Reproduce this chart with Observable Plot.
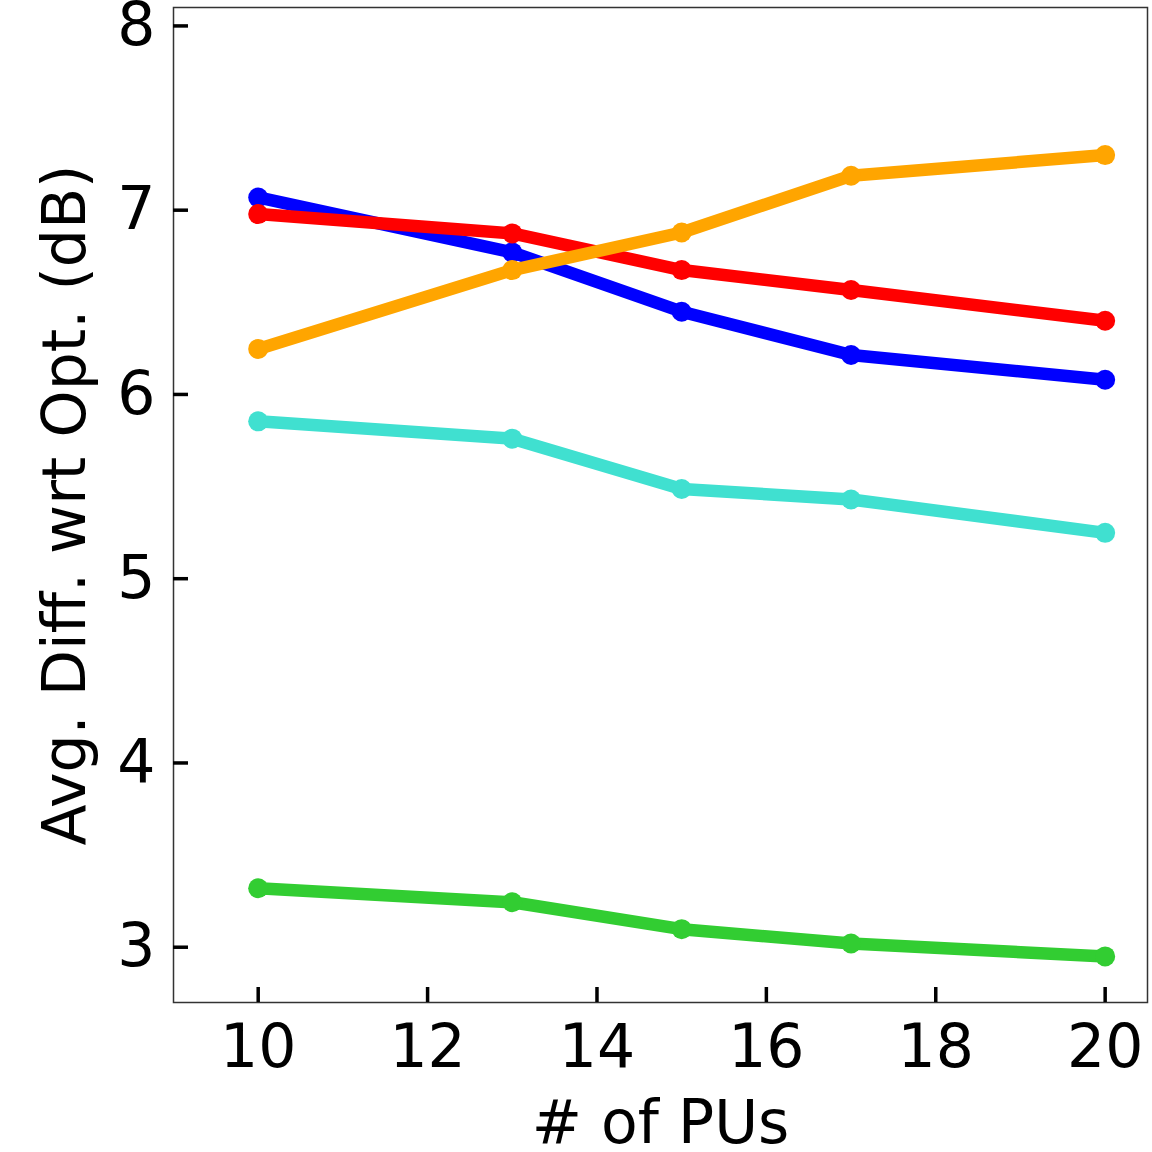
<!DOCTYPE html>
<html>
<head>
<meta charset="utf-8">
<script src="https://cdn.jsdelivr.net/npm/d3@7"></script>
<script src="https://cdn.jsdelivr.net/npm/@observablehq/plot@0.6"></script>
<style>
  html, body { margin: 0; padding: 0; background: #fff; }
  #chart svg { display: block; }
</style>
</head>
<body>
<div id="chart"></div>
<script>
const pus = [10, 13, 15, 17, 20];
const seriesNames = ["S1", "S2", "S3", "S4", "S5"];
const s1Vals = [3.32, 3.244, 3.098, 3.02, 2.95];
const s2Vals = [5.854, 5.76, 5.487, 5.43, 5.249];
const s3Vals = [7.069, 6.771, 6.449, 6.214, 6.08];
const s4Vals = [6.979, 6.874, 6.675, 6.567, 6.40];
const s5Vals = [6.247, 6.675, 6.879, 7.187, 7.299];
const seriesColors = ["#32cd32", "#40e0d0", "#0000ff", "#ff0000", "#ffa500"];
const xTicks = [10, 12, 14, 16, 18, 20];
const yTicks = [3, 4, 5, 6, 7, 8];

const valuesBySeries = [s1Vals, s2Vals, s3Vals, s4Vals, s5Vals];
const data = [];
seriesNames.forEach((s, i) => {
  pus.forEach((p, j) => data.push({series: s, pus: p, value: valuesBySeries[i][j]}));
});

const font = "DejaVu Sans";
const chart = Plot.plot({
  width: 1152,
  height: 1152,
  marginLeft: 173,
  marginTop: 7,
  marginRight: 5,
  marginBottom: 150,
  style: {fontFamily: font, fontSize: "60px", color: "#000", background: "#fff"},
  x: {domain: [9, 20.5]},
  y: {domain: [2.7, 8.1]},
  color: {domain: seriesNames, range: seriesColors},
  marks: [
    Plot.frame({stroke: "#333", strokeWidth: 1.5}),
    Plot.axisX({ticks: xTicks, tickFormat: "d", tickSize: -15, tickPadding: 37, strokeWidth: 3.5, fontSize: 60,
      label: "# of PUs", labelAnchor: "center", labelArrow: "none", labelOffset: 140}),
    Plot.axisY({ticks: yTicks, tickFormat: "d", tickSize: -15, tickPadding: 33, strokeWidth: 3.5, fontSize: 60,
      label: "Avg. Diff. wrt Opt. (dB)", labelAnchor: "center", labelArrow: "none", labelOffset: 131}),
    Plot.line(data, {x: "pus", y: "value", z: "series", stroke: "series", strokeWidth: 12.5, strokeLinejoin: "round", strokeLinecap: "butt"}),
    Plot.dot(data, {x: "pus", y: "value", fill: "series", r: 10})
  ]
});
document.getElementById("chart").appendChild(chart);
</script>
</body>
</html>
